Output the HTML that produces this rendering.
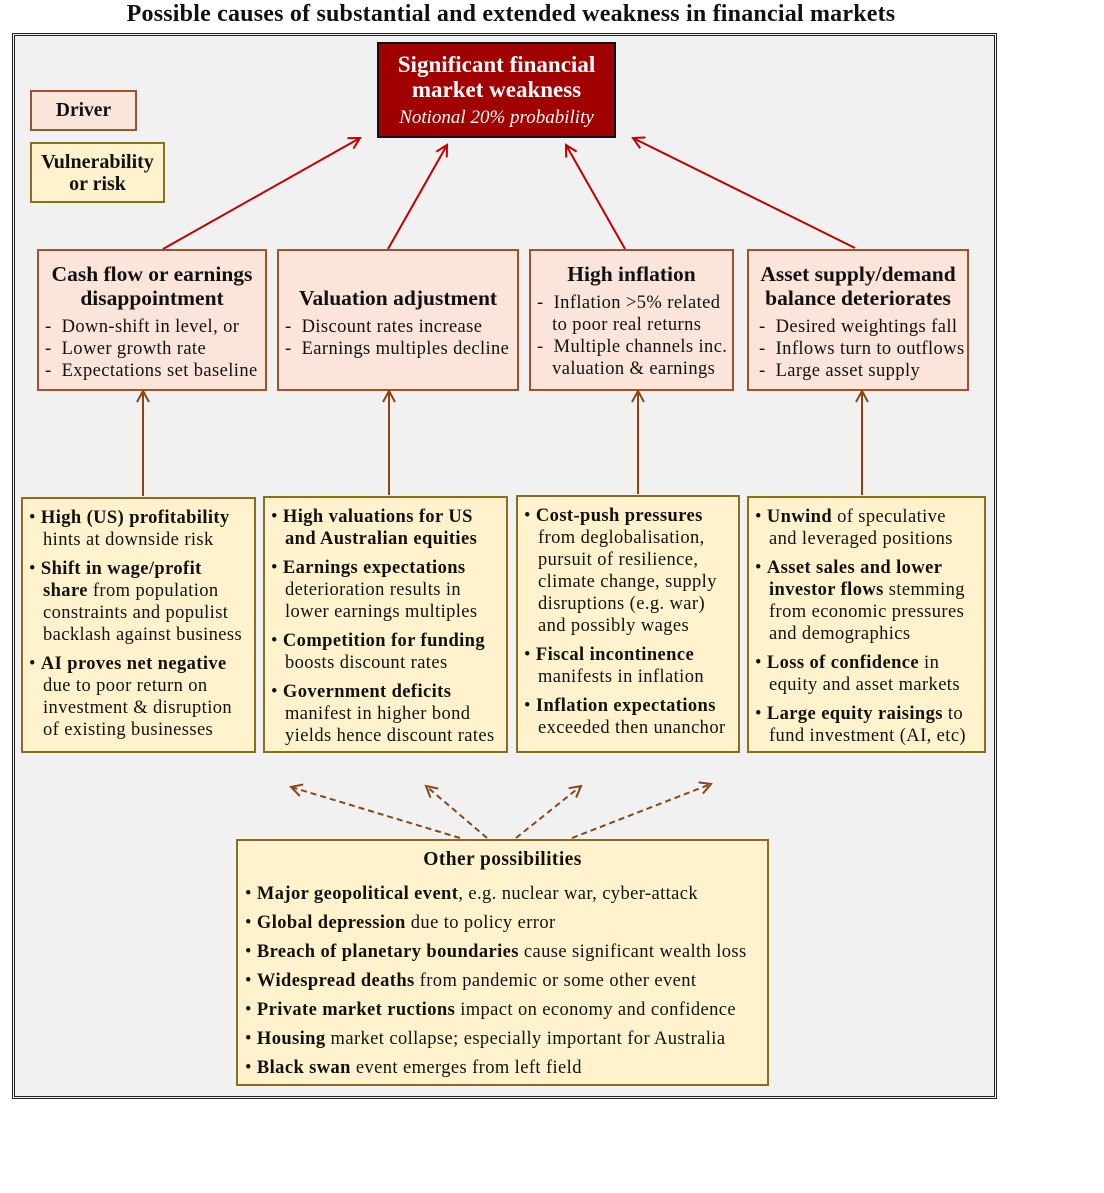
<!DOCTYPE html>
<html><head><meta charset="utf-8"><style>
body{margin:0;width:1104px;height:1193px;background:#fff;position:relative;font-family:"Liberation Serif","DejaVu Serif",serif;color:#111;overflow:hidden}
.abs{position:absolute;box-sizing:border-box}
.title{left:0;width:1022px;top:1px;text-align:center;font-weight:bold;font-size:24px;letter-spacing:0.2px}
.frame{left:12px;top:33px;width:985px;height:1066px;border:3px double #222;background:#f1f1f1}
.drv{background:#fbe4d9;border:2px solid #a0522d}
.vul{background:#fff2cc;border:2px solid #8b6d1f}
.h{font-weight:bold;font-size:21.5px;text-align:center;line-height:24px}
.d,.v{font-size:18.5px;letter-spacing:0.4px;line-height:22px;white-space:nowrap}
.v p{margin:0 0 7px 0;padding-left:14px;text-indent:-14px}
b{font-weight:bold}
</style></head><body>
<div class="abs title">Possible causes of substantial and extended weakness in financial markets</div>
<div class="abs frame"></div>

<div class="abs" style="left:377px;top:42px;width:239px;height:96px;background:#a00000;border:2px solid #111;color:#fff;text-align:center">
<div style="font-weight:bold;font-size:23px;line-height:25px;margin-top:8px">Significant financial<br>market weakness</div>
<div style="font-style:italic;font-size:19px;margin-top:5px">Notional 20% probability</div></div>

<div class="abs drv" style="left:30px;top:90px;width:107px;height:41px;text-align:center;font-weight:bold;font-size:19.5px;line-height:37px">Driver</div>
<div class="abs vul" style="left:30px;top:142px;width:135px;height:61px;text-align:center;font-weight:bold;font-size:20px;line-height:22px;padding-top:7px">Vulnerability<br>or risk</div>

<div class="abs drv" style="left:37px;top:249px;width:230px;height:142px"><div class="h" style="margin-top:11px">Cash flow or earnings<br>disappointment</div>
<div class="d" style="margin:6px 0 0 6px">-&nbsp; Down-shift in level, or<br>-&nbsp; Lower growth rate<br>-&nbsp; Expectations set baseline</div></div>
<div class="abs drv" style="left:277px;top:249px;width:242px;height:142px"><div class="h" style="margin-top:35px">Valuation adjustment</div>
<div class="d" style="margin:6px 0 0 6px">-&nbsp; Discount rates increase<br>-&nbsp; Earnings multiples decline</div></div>
<div class="abs drv" style="left:529px;top:249px;width:205px;height:142px"><div class="h" style="margin-top:11px">High inflation</div>
<div class="d" style="margin:6px 0 0 6px">-&nbsp; Inflation &gt;5% related<br>&nbsp;&nbsp;&nbsp;to poor real returns<br>-&nbsp; Multiple channels inc.<br>&nbsp;&nbsp;&nbsp;valuation &amp; earnings</div></div>
<div class="abs drv" style="left:747px;top:249px;width:222px;height:142px"><div class="h" style="margin-top:11px">Asset supply/demand<br>balance deteriorates</div>
<div class="d" style="margin:6px 0 0 10px">-&nbsp; Desired weightings fall<br>-&nbsp; Inflows turn to outflows<br>-&nbsp; Large asset supply</div></div>

<div class="abs vul v" style="left:21px;top:497px;width:235px;height:256px;padding:8px 0 0 6px">
<p>&#8226; <b>High (US) profitability</b><br>hints at downside risk</p>
<p>&#8226; <b>Shift in wage/profit<br>share</b> from population<br>constraints and populist<br>backlash against business</p>
<p>&#8226; <b>AI proves net negative</b><br>due to poor return on<br>investment &amp; disruption<br>of existing businesses</p></div>
<div class="abs vul v" style="left:263px;top:496px;width:245px;height:257px;padding:8px 0 0 6px">
<p>&#8226; <b>High valuations for US<br>and Australian equities</b></p>
<p>&#8226; <b>Earnings expectations</b><br>deterioration results in<br>lower earnings multiples</p>
<p>&#8226; <b>Competition for funding</b><br>boosts discount rates</p>
<p>&#8226; <b>Government deficits</b><br>manifest in higher bond<br>yields hence discount rates</p></div>
<div class="abs vul v" style="left:516px;top:495px;width:224px;height:258px;padding:8px 0 0 6px">
<p>&#8226; <b>Cost-push pressures</b><br>from deglobalisation,<br>pursuit of resilience,<br>climate change, supply<br>disruptions (e.g. war)<br>and possibly wages</p>
<p>&#8226; <b>Fiscal incontinence</b><br>manifests in inflation</p>
<p>&#8226; <b>Inflation expectations</b><br>exceeded then unanchor</p></div>
<div class="abs vul v" style="left:747px;top:496px;width:239px;height:257px;padding:8px 0 0 6px">
<p>&#8226; <b>Unwind</b> of speculative<br>and leveraged positions</p>
<p>&#8226; <b>Asset sales and lower<br>investor flows</b> stemming<br>from economic pressures<br>and demographics</p>
<p>&#8226; <b>Loss of confidence</b> in<br>equity and asset markets</p>
<p>&#8226; <b>Large equity raisings</b> to<br>fund investment (AI, etc)</p></div>

<div class="abs vul" style="left:236px;top:839px;width:533px;height:247px;padding:4px 0 0 7px;font-size:18.5px;letter-spacing:0.4px;line-height:29px;white-space:nowrap">
<div style="text-align:center;font-weight:bold;font-size:19.5px;margin-left:-7px;margin-bottom:6px">Other possibilities</div>
&#8226; <b>Major geopolitical event</b>, e.g. nuclear war, cyber-attack<br>
&#8226; <b>Global depression</b> due to policy error<br>
&#8226; <b>Breach of planetary boundaries</b> cause significant wealth loss<br>
&#8226; <b>Widespread deaths</b> from pandemic or some other event<br>
&#8226; <b>Private market ructions</b> impact on economy and confidence<br>
&#8226; <b>Housing</b> market collapse; especially important for Australia<br>
&#8226; <b>Black swan</b> event emerges from left field</div>

<svg class="abs" style="left:0;top:0" width="1104" height="1193">
<defs>
<marker id="ar" markerWidth="14" markerHeight="14" refX="12" refY="7" orient="auto" markerUnits="userSpaceOnUse"><path d="M1,1 L12,7 L1,13" fill="none" stroke="#c00000" stroke-width="2"/></marker>
<marker id="ab" markerWidth="14" markerHeight="14" refX="12" refY="7" orient="auto" markerUnits="userSpaceOnUse"><path d="M1,1 L12,7 L1,13" fill="none" stroke="#8b4513" stroke-width="2"/></marker>
</defs>
<g stroke="#c00000" stroke-width="2" fill="none" marker-end="url(#ar)">
<line x1="163" y1="249" x2="360" y2="138"/>
<line x1="388" y1="249" x2="447" y2="145"/>
<line x1="625" y1="249" x2="566" y2="145"/>
<line x1="855" y1="248" x2="633" y2="138"/>
</g>
<g stroke="#8b4513" stroke-width="2" fill="none" marker-end="url(#ab)">
<line x1="143" y1="496" x2="143" y2="391"/>
<line x1="389" y1="495" x2="389" y2="391"/>
<line x1="638" y1="494" x2="638" y2="391"/>
<line x1="862" y1="495" x2="862" y2="391"/>
<g stroke-dasharray="6,4">
<line x1="460" y1="838" x2="291" y2="787"/>
<line x1="487" y1="838" x2="426" y2="786"/>
<line x1="516" y1="838" x2="581" y2="786"/>
<line x1="572" y1="838" x2="711" y2="784"/>
</g></g>
</svg>
</body></html>
